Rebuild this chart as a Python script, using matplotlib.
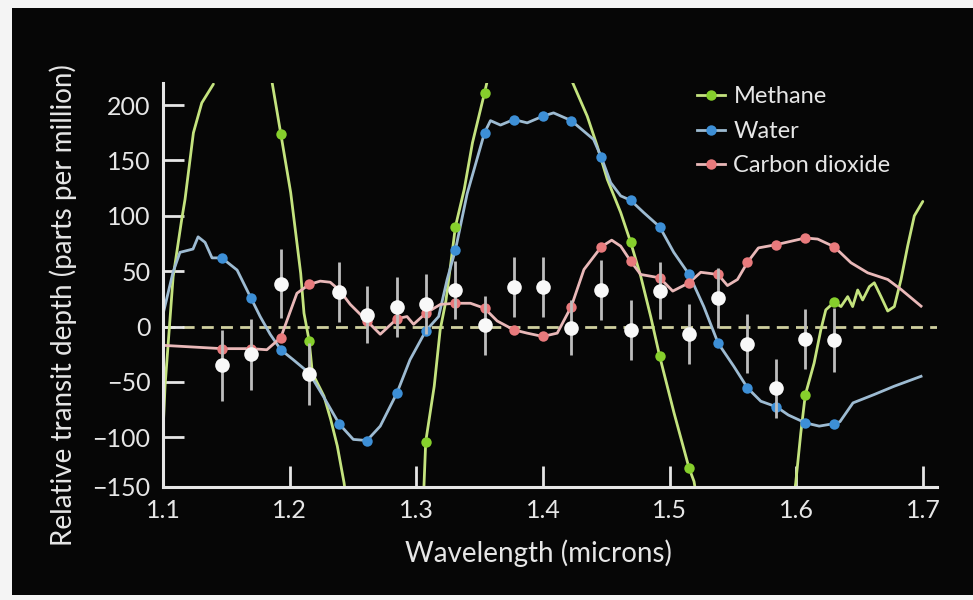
import numpy as np
import matplotlib
matplotlib.use("Agg")
import matplotlib.pyplot as plt
from matplotlib.lines import Line2D
from matplotlib.patches import Rectangle

# ---------------- data ----------------
obs_x = [1.1464, 1.1693, 1.1930, 1.2154, 1.2391, 1.2610, 1.2847, 1.3074, 1.3308, 1.3538, 1.3769,
         1.3998, 1.4223, 1.4460, 1.4692, 1.4921, 1.5153, 1.5382, 1.5614, 1.5843, 1.6070, 1.6299]
obs_y = [-35, -25, 38.6, -43, 31.4, 10.8, 17.8, 20, 32.8, 1, 35.5,
         35.5, -1, 33, -3, 32.5, -6.6, 26, -15.4, -56, -11, -12]
obs_err = [32, 32, 31, 28, 27, 26, 27, 27, 26, 27, 27,
           27, 25, 27, 27, 26, 27, 27, 27, 27, 27, 29]

water_line_x = [1.1002, 1.1079, 1.1134, 1.1237, 1.1277, 1.1332, 1.1387, 1.1464, 1.1585, 1.1693, 1.1767,
                1.1846, 1.1930, 1.2028, 1.2154, 1.2265, 1.2391, 1.2502, 1.2610, 1.2715, 1.2847, 1.2950,
                1.3074, 1.3176, 1.3243, 1.3308, 1.3401, 1.3538, 1.3585, 1.3664, 1.3769, 1.3875, 1.3998,
                1.4083, 1.4223, 1.4399, 1.4460, 1.4534, 1.4613, 1.4692, 1.4794, 1.4921, 1.5032, 1.5153,
                1.5269, 1.5382, 1.5506, 1.5614, 1.5719, 1.5843, 1.5937, 1.6070, 1.6180, 1.6299, 1.6344,
                1.6447, 1.6613, 1.6771, 1.6984]
water_line_y = [12, 49, 67, 70, 81, 76, 62, 62, 51, 26, 9,
                -7, -21, -30, -42, -63, -88, -102, -103, -90, -60, -30,
                -4, 9, 42.5, 69, 120, 175, 186, 182, 187, 184, 190,
                193, 186, 169, 153, 130, 118, 114, 103, 90, 67, 47,
                18, -15, -36, -55.5, -67.5, -72.6, -80, -87, -90, -87.7, -86,
                -69, -61.5, -54, -45]
water_mark_y = [62, 26, -21, -42, -88, -103, -60, -4, 69, 175, 187,
                190, 186, 153, 114, 90, 47, -15, -55.5, -72.6, -87, -87.7]

co2_line_x = [1.1000, 1.1464, 1.1693, 1.1820, 1.1930, 1.1990, 1.2057, 1.2154, 1.2241, 1.2320, 1.2391,
              1.2478, 1.2610, 1.2715, 1.2847, 1.2926, 1.2978, 1.3074, 1.3190, 1.3308, 1.3427, 1.3538,
              1.3638, 1.3769, 1.3875, 1.3998, 1.4112, 1.4223, 1.4323, 1.4460, 1.4542, 1.4613, 1.4692,
              1.4771, 1.4921, 1.5024, 1.5153, 1.5245, 1.5382, 1.5456, 1.5535, 1.5614, 1.5700, 1.5843,
              1.5957, 1.6070, 1.6168, 1.6299, 1.6431, 1.6563, 1.6721, 1.6826, 1.6984]
co2_line_y = [-17, -20, -20, -21, -10, 9, 30, 38, 41, 40, 33,
              20, 5, -7, 7, 9, 2, 12, 20, 21, 21, 16.5,
              5, -3, -6, -9, -6, 18, 51.5, 72, 78, 72.6, 59,
              47, 44, 32, 39.5, 49, 47, 37, 42.5, 58, 71, 74,
              77, 80, 79, 72, 57.6, 48.5, 42.5, 33.5, 18.4]
co2_mark_y = [-20, -20, -10, 38, 33, 5, 7, 12, 21, 16.5, -3,
              -9, 18, 72, 59, 44, 39.5, 47, 58, 74, 80, 72]

# methane model: separate segments (leave and re-enter the plotting window)
methane_line_x = [1.1000, 1.1010, 1.1016, 1.1080, 1.1148, 1.1174, 1.1240, 1.1306, 1.1398, np.nan,
                  1.1862, 1.1930, 1.2008, 1.2034, 1.2087, 1.2113, 1.2154, 1.2179, 1.2271, 1.2324, 1.2376, 1.2429, 1.2440, np.nan,
                  1.3058, 1.3074, 1.3141, 1.3188, 1.3233, 1.3273, 1.3308, 1.3378, 1.3443, 1.3538, 1.3562, np.nan,
                  1.4231, 1.4349, 1.4428, 1.4507, 1.4613, 1.4692, 1.4771, 1.4850, 1.4921, 1.5034, 1.5153, 1.5192, 1.5206, np.nan,
                  1.5985, 1.5995, 1.6035, 1.6070, 1.6140, 1.6193, 1.6232, 1.6299, 1.6352, 1.6405, 1.6444, 1.6484,
                  1.6523, 1.6576, 1.6615, 1.6668, 1.6721, 1.6773, 1.6826, 1.6879, 1.6931, 1.6998]
methane_line_y = [-95, -70, -54, 45, 97, 115, 175, 202, 219, np.nan,
                  220, 174, 121, 97, 48, 12, -13, -42, -63, -84, -108, -141, -150, np.nan,
                  -150, -104, -54, -3, 23, 58, 90, 124, 166, 211, 223, np.nan,
                  221, 190, 163, 133, 103, 76, 45.5, 9, -27, -78, -128, -140, -150, np.nan,
                  -150, -141, -96, -62, -33, -3, 15, 22, 18, 27, 18, 33,
                  24, 36, 39.5, 27, 14, 18, 42.5, 73, 100, 113]
methane_mark_x = [1.1930, 1.2154, 1.3074, 1.3308, 1.3538, 1.4692, 1.4921, 1.5153, 1.6070, 1.6299]
methane_mark_y = [174, -13, -104, 90, 211, 76, -27, -128, -62, 22]

x_ticks = [1.1, 1.2, 1.3, 1.4, 1.5, 1.6, 1.7]
x_tick_labels = ["1.1", "1.2", "1.3", "1.4", "1.5", "1.6", "1.7"]
y_ticks = [-145, -100, -50, 0, 50, 100, 150, 200]
y_tick_labels = ["\u2212150", "\u2212100", "\u221250", "0", "50", "100", "150", "200"]

series_names = ["Methane", "Water", "Carbon dioxide"]

# ---------------- style ----------------
plt.rcParams['font.family'] = ['Lato', 'DejaVu Sans']
TXT = '#e6e6e6'
M_LINE, M_MARK = '#c4e37e', '#86cf2c'
W_LINE, W_MARK = '#9dbbd2', '#3d8fd6'
C_LINE, C_MARK = '#e9b8b8', '#e87a7c'

fig = plt.figure(figsize=(9.73, 6.0), dpi=100, facecolor='#f4f4f4')
fig.patches.append(Rectangle((12 / 973, 1 - 595 / 600), 1.0, (595 - 8) / 600,
                             transform=fig.transFigure, facecolor='#060606',
                             edgecolor='none', zorder=-10))

ax = fig.add_axes([163 / 973, 1 - 487 / 600, (937 - 163) / 973, (487 - 83) / 600])
ax.set_facecolor('none')
ax.set_xlim(1.1, 1.711)
ax.set_ylim(-145, 220)

ax.axhline(0, color='#cfcf9f', lw=2, dashes=(4.3, 2.6), zorder=1)

ax.plot(methane_line_x, methane_line_y, color=M_LINE, lw=2.0, zorder=2,
        solid_capstyle='round', solid_joinstyle='round')
ax.plot(water_line_x, water_line_y, color=W_LINE, lw=2.0, zorder=2, solid_joinstyle='round')
ax.plot(co2_line_x, co2_line_y, color=C_LINE, lw=2.0, zorder=2, solid_joinstyle='round')

ax.plot(obs_x, water_mark_y, 'o', color=W_MARK, ms=7.5, mec='none', zorder=3)
ax.plot(obs_x, co2_mark_y, 'o', color=C_MARK, ms=7.5, mec='none', zorder=3)
ax.plot(methane_mark_x, methane_mark_y, 'o', color=M_MARK, ms=7.5, mec='none', zorder=3)

ax.errorbar(obs_x, obs_y, yerr=obs_err, fmt='none', ecolor='#bdbdbd', elinewidth=2, capsize=0, zorder=4)
ax.plot(obs_x, obs_y, 'o', color='#f8f8f8', ms=10.5, mec='none', zorder=5)

for s in ['top', 'right']:
    ax.spines[s].set_visible(False)
for s in ['left', 'bottom']:
    ax.spines[s].set_color(TXT)
    ax.spines[s].set_linewidth(2.2)

ax.set_xticks(x_ticks, x_tick_labels)
ax.set_yticks(y_ticks, y_tick_labels)
ax.tick_params(direction='in', length=15, width=2, color=TXT, labelcolor=TXT,
               labelsize=18, pad=9)

handles = [Line2D([0], [0], color=M_LINE, lw=2, marker='o', ms=7.5, mfc=M_MARK, mec='none'),
           Line2D([0], [0], color=W_LINE, lw=2, marker='o', ms=7.5, mfc=W_MARK, mec='none'),
           Line2D([0], [0], color=C_LINE, lw=2, marker='o', ms=7.5, mfc=C_MARK, mec='none')]
leg = ax.legend(handles, series_names, loc='upper left', bbox_to_anchor=(0.6625, 1.045),
                frameon=False, fontsize=17, handlelength=1.2, handletextpad=0.34,
                labelspacing=0.58, labelcolor=TXT)

fig.text(538 / 973, 1 - 553 / 600, "Wavelength (microns)", color=TXT, fontsize=20,
         ha='center', va='center')
fig.text(63 / 973, 1 - 305 / 600, "Relative transit depth (parts per million)", color=TXT,
         fontsize=20, ha='center', va='center', rotation=90)

fig.savefig('out.png', dpi=100, facecolor=fig.get_facecolor())
